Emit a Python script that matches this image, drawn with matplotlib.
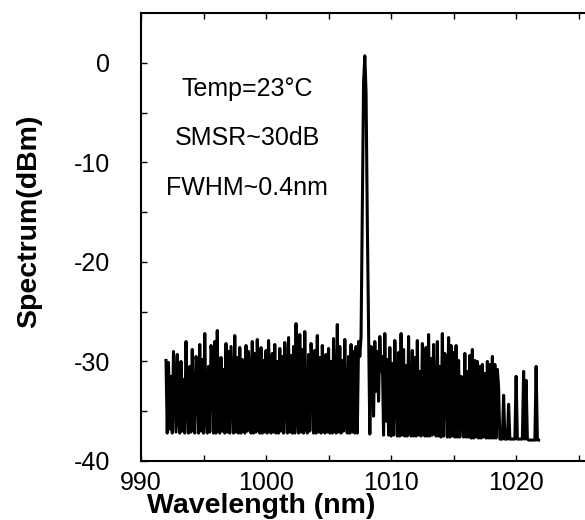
import numpy as np
import matplotlib
matplotlib.use("Agg")
import matplotlib.pyplot as plt

plt.rcParams['font.family'] = ['Liberation Sans', 'DejaVu Sans']
plt.rcParams['axes.unicode_minus'] = False

# spectrum samples, 0.1 nm apart, starting at 992.0 nm
wl_start = 992.0
wl_step = 0.1
power = [
    -29.9, -37.2, -30.1, -36.8, -31.5, -37.2, -29.0, -33.0, -37.1, -29.3,   # 992
    -35.5, -37.2, -30.0, -37.0, -31.8, -37.2, -28.0, -34.0, -37.2, -30.5,   # 993
    -37.1, -28.8, -36.0, -37.2, -29.5, -30.5, -37.2, -28.3, -37.0, -29.8,   # 994
    -37.2, -27.2, -35.0, -37.2, -30.5, -37.1, -28.4, -29.9, -37.2, -28.0,   # 995
    -37.2, -26.9, -36.5, -37.2, -29.6, -37.0, -30.8, -37.2, -28.2, -37.1,   # 996
    -29.0, -37.2, -28.5, -33.0, -37.2, -27.4, -37.1, -29.6, -37.2, -28.6,   # 997
    -37.2, -29.8, -36.0, -37.2, -28.4, -37.0, -29.0, -31.5, -37.2, -28.0,   # 998
    -37.2, -29.2, -37.1, -27.8, -34.5, -37.2, -28.6, -37.2, -29.9, -37.1,   # 999
    -28.9, -37.2, -27.9, -32.0, -37.2, -29.2, -37.1, -28.3, -37.2, -30.0,   # 1000
    -37.2, -28.7, -37.0, -29.5, -37.2, -28.1, -33.5, -37.2, -27.6, -37.1,   # 1001
    -29.4, -37.2, -28.5, -37.2, -26.2, -35.0, -37.2, -27.3, -37.1, -28.8,   # 1002
    -37.2, -27.0, -36.5, -37.2, -29.3, -37.0, -28.2, -30.5, -37.2, -28.9,   # 1003
    -37.2, -27.4, -37.1, -29.6, -37.2, -28.4, -32.0, -37.2, -29.3, -37.1,   # 1004
    -28.7, -37.2, -30.0, -37.2, -27.7, -34.0, -37.2, -26.3, -37.1, -28.5,   # 1005
    -37.2, -29.9, -37.0, -27.8, -36.0, -37.2, -29.5, -37.2, -28.3, -37.1,   # 1006
    -29.0, -37.2, -28.5, -37.2, -28.0, -29.5, -27.5, -15.0, -2.0, 0.7,      # 1007
    -3.0, -16.0, -26.5, -37.3, -28.5, -30.5, -35.5, -28.0, -33.0, -29.0,    # 1008
    -34.0, -27.5, -31.0, -29.5, -37.4, -27.2, -36.0, -29.8, -37.4, -28.6,   # 1009
    -37.5, -30.2, -37.4, -27.9, -33.0, -37.5, -29.1, -37.5, -27.2, -37.4,   # 1010
    -28.8, -37.5, -30.4, -37.5, -27.5, -35.0, -37.5, -28.9, -37.5, -29.6,   # 1011
    -37.5, -27.9, -37.4, -31.0, -37.5, -28.2, -30.0, -37.5, -28.6, -37.5,   # 1012
    -27.3, -37.5, -29.7, -37.4, -28.3, -36.0, -37.5, -28.0, -37.5, -30.5,   # 1013
    -37.6, -27.2, -37.5, -29.2, -31.5, -37.6, -27.6, -37.6, -28.4, -37.5,   # 1014
    -29.1, -37.6, -28.4, -37.6, -29.9, -37.6, -31.5, -34.0, -37.6, -29.2,   # 1015
    -37.6, -31.0, -37.6, -29.4, -37.7, -28.8, -37.7, -29.9, -37.6, -30.0,   # 1016
    -37.7, -30.5, -37.7, -30.3, -37.6, -31.2, -37.7, -30.0, -37.7, -30.3,   # 1017
    -37.7, -29.5, -37.7, -30.3, -37.7, -30.8, -32.6, -37.8, -37.8, -37.8,   # 1018
    -33.4, -37.8, -37.8, -37.8, -34.3, -37.8, -37.8, -37.8, -37.8, -37.8,   # 1019
    -31.5, -37.8, -37.8, -37.8, -37.8, -37.8, -31.0, -37.8, -31.9, -37.8,   # 1020
    -37.9, -37.9, -37.9, -37.9, -37.9, -37.9, -30.5, -37.9, -37.9,          # 1021
]
wavelength = wl_start + wl_step * np.arange(len(power))

x_major = [990, 1000, 1010, 1020]
x_minor = [995, 1005, 1015, 1025]
y_major = [-40, -30, -20, -10, 0]
y_minor = [-35, -25, -15, -5]

notes = ["Temp=23\u00b0C", "SMSR~30dB", "FWHM~0.4nm"]
notes_x = 998.5
notes_y = [-3.3, -8.3, -13.3]

fig = plt.figure(figsize=(5.85, 5.2), dpi=100)
ax = fig.add_axes([0.241, 0.1135, 0.855, 0.8615])

ax.plot(wavelength, power, color='black', lw=2.2)

ax.set_xlim(990, 1030)
ax.set_ylim(-40, 5)
ax.set_xticks(x_major)
ax.set_xticks(x_minor, minor=True)
ax.set_yticks(y_major)
ax.set_yticks(y_minor, minor=True)
ax.tick_params(which='both', direction='in', top=True, right=True,
               length=4, width=1)
ax.tick_params(axis='x', which='major', labelsize=18, pad=7)
ax.tick_params(axis='y', which='major', labelsize=18, pad=22)
for sp in ax.spines.values():
    sp.set_linewidth(1.5)

ax.set_xlabel("Wavelength (nm)", fontsize=20.5, fontweight='bold')
ax.set_ylabel("Spectrum(dBm)", fontsize=20.5, fontweight='bold')
ax.xaxis.set_label_coords(0.24, -0.072)
ax.yaxis.set_label_coords(-0.198, 0.535)

for t, yy in zip(notes, notes_y):
    ax.text(notes_x, yy, t, fontsize=18, ha='center', va='baseline')

fig.savefig("out.png", dpi=100)
